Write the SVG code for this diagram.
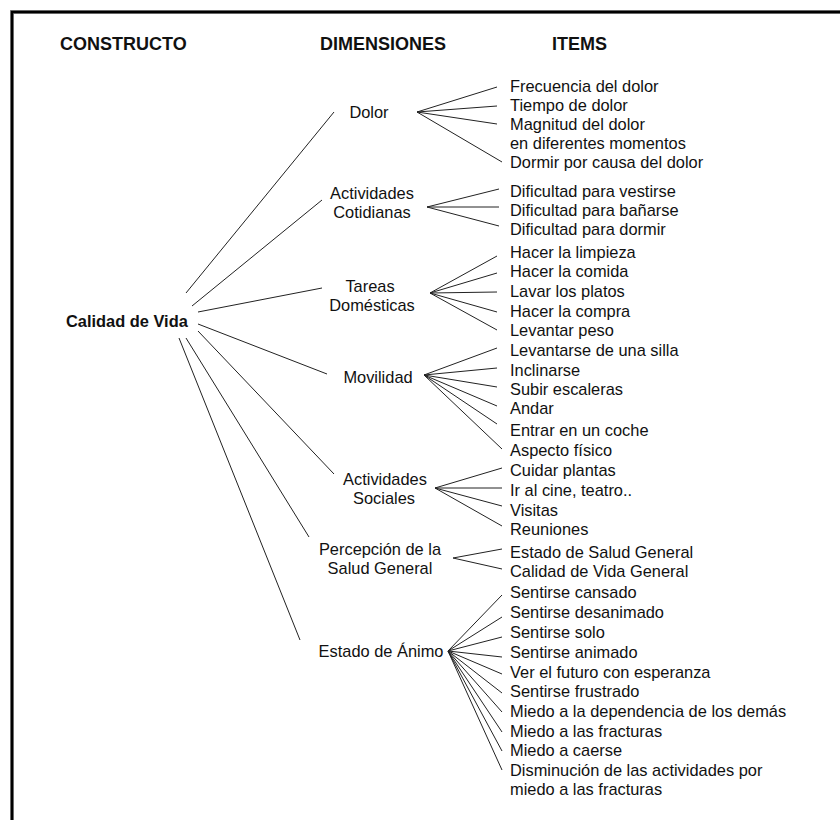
<svg xmlns="http://www.w3.org/2000/svg" width="840" height="820" viewBox="0 0 840 820">
<style>
text{font-family:"Liberation Sans",Arial,sans-serif;fill:#111;font-size:16.4px}
.h{font-weight:bold;font-size:18px}
.b{font-weight:bold}
.d{text-anchor:middle}
#connectors line{stroke:#222;stroke-width:1}
</style>
<rect x="0" y="0" width="840" height="820" fill="#fff"/>
<path d="M12,820 V12 H840" fill="none" stroke="#888" stroke-width="4"/>
<path d="M12,820 V12 H840" fill="none" stroke="#000" stroke-width="2.4"/>
<g id="headers">
<text class="h" x="60" y="50">CONSTRUCTO</text>
<text class="h" x="320" y="50">DIMENSIONES</text>
<text class="h" x="552" y="50">ITEMS</text>
</g>
<g id="connectors">
<line x1="186" y1="293" x2="334" y2="112"/>
<line x1="192" y1="306" x2="322" y2="200"/>
<line x1="198" y1="312" x2="322" y2="288"/>
<line x1="198" y1="324" x2="327" y2="374"/>
<line x1="198" y1="331" x2="334" y2="474"/>
<line x1="186" y1="338" x2="309" y2="537"/>
<line x1="179" y1="338" x2="300" y2="640"/>
<line x1="417" y1="112" x2="497" y2="87"/>
<line x1="417" y1="112" x2="497" y2="106"/>
<line x1="417" y1="112" x2="497" y2="124"/>
<line x1="417" y1="112" x2="502" y2="162"/>
<line x1="427" y1="207" x2="499" y2="189"/>
<line x1="427" y1="207" x2="499" y2="207"/>
<line x1="427" y1="207" x2="499" y2="226"/>
<line x1="430" y1="293" x2="497" y2="256"/>
<line x1="430" y1="293" x2="497" y2="273"/>
<line x1="430" y1="293" x2="497" y2="292"/>
<line x1="430" y1="293" x2="497" y2="312"/>
<line x1="430" y1="293" x2="497" y2="330"/>
<line x1="424" y1="375" x2="497" y2="348"/>
<line x1="424" y1="375" x2="497" y2="368"/>
<line x1="424" y1="375" x2="497" y2="387"/>
<line x1="424" y1="375" x2="497" y2="406"/>
<line x1="424" y1="375" x2="497" y2="424"/>
<line x1="424" y1="375" x2="502" y2="449"/>
<line x1="435" y1="488" x2="502" y2="468"/>
<line x1="435" y1="488" x2="502" y2="488"/>
<line x1="435" y1="488" x2="502" y2="506"/>
<line x1="435" y1="488" x2="502" y2="526"/>
<line x1="453" y1="558" x2="502" y2="549"/>
<line x1="453" y1="558" x2="502" y2="569"/>
<line x1="448" y1="651" x2="502" y2="595"/>
<line x1="448" y1="651" x2="502" y2="617"/>
<line x1="448" y1="651" x2="502" y2="637"/>
<line x1="448" y1="651" x2="502" y2="657"/>
<line x1="448" y1="651" x2="502" y2="674"/>
<line x1="448" y1="651" x2="502" y2="693"/>
<line x1="448" y1="651" x2="502" y2="712"/>
<line x1="448" y1="651" x2="502" y2="732"/>
<line x1="448" y1="651" x2="502" y2="751"/>
<line x1="448" y1="651" x2="502" y2="770"/>
</g>
<g id="calidad-de-vida"><text class="b" x="66" y="327">Calidad de Vida</text></g>
<g id="dim-dolor"><text class="d" x="369" y="118">Dolor</text></g>
<g id="dim-actividades-cotidianas"><text class="d" x="372" y="199">Actividades</text><text class="d" x="372" y="218">Cotidianas</text></g>
<g id="dim-tareas-domesticas"><text class="d" x="370" y="292">Tareas</text><text class="d" x="372" y="311">Domésticas</text></g>
<g id="dim-movilidad"><text class="d" x="378" y="383">Movilidad</text></g>
<g id="dim-actividades-sociales"><text class="d" x="385" y="485">Actividades</text><text class="d" x="384" y="504">Sociales</text></g>
<g id="dim-percepcion"><text class="d" x="380" y="555">Percepción de la</text><text class="d" x="380" y="574">Salud General</text></g>
<g id="dim-estado-animo"><text class="d" x="381" y="657">Estado de Ánimo</text></g>
<g id="items-dolor">
<text x="510" y="92">Frecuencia del dolor</text>
<text x="510" y="111">Tiempo de dolor</text>
<text x="510" y="130">Magnitud del dolor</text>
<text x="510" y="149">en diferentes momentos</text>
<text x="510" y="168">Dormir por causa del dolor</text>
</g>
<g id="items-actividades-cotidianas">
<text x="510" y="197">Dificultad para vestirse</text>
<text x="510" y="216">Dificultad para bañarse</text>
<text x="510" y="235">Dificultad para dormir</text>
</g>
<g id="items-tareas">
<text x="510" y="258">Hacer la limpieza</text>
<text x="510" y="277">Hacer la comida</text>
<text x="510" y="297">Lavar los platos</text>
<text x="510" y="317">Hacer la compra</text>
<text x="510" y="336">Levantar peso</text>
</g>
<g id="items-movilidad">
<text x="510" y="356">Levantarse de una silla</text>
<text x="510" y="376">Inclinarse</text>
<text x="510" y="395">Subir escaleras</text>
<text x="510" y="414">Andar</text>
<text x="510" y="436">Entrar en un coche</text>
<text x="510" y="456">Aspecto físico</text>
</g>
<g id="items-actividades-sociales">
<text x="510" y="476">Cuidar plantas</text>
<text x="510" y="496">Ir al cine, teatro..</text>
<text x="510" y="516">Visitas</text>
<text x="510" y="535">Reuniones</text>
</g>
<g id="items-percepcion">
<text x="510" y="558">Estado de Salud General</text>
<text x="510" y="577">Calidad de Vida General</text>
</g>
<g id="items-estado-animo">
<text x="510" y="598">Sentirse cansado</text>
<text x="510" y="618">Sentirse desanimado</text>
<text x="510" y="638">Sentirse solo</text>
<text x="510" y="658">Sentirse animado</text>
<text x="510" y="678">Ver el futuro con esperanza</text>
<text x="510" y="697">Sentirse frustrado</text>
<text x="510" y="717">Miedo a la dependencia de los demás</text>
<text x="510" y="737">Miedo a las fracturas</text>
<text x="510" y="756">Miedo a caerse</text>
<text x="510" y="776">Disminución de las actividades por</text>
<text x="510" y="795">miedo a las fracturas</text>
</g>
</svg>
